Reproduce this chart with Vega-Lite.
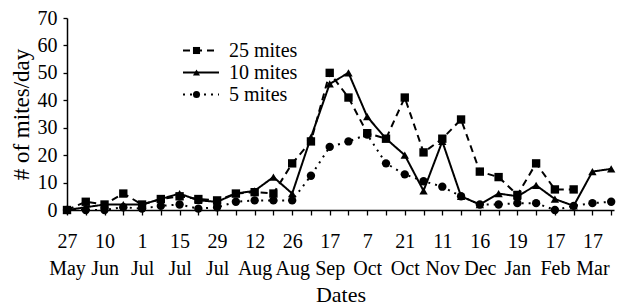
{
  "$schema": "https://vega.github.io/schema/vega-lite/v6.json",
  "width": 547,
  "height": 192,
  "autosize": {"type": "none"},
  "padding": {"left": 67, "top": 18, "right": 3, "bottom": 96},
  "background": "white",
  "data": {
    "values": [
      {"idx": 0, "series": "25 mites", "value": 0},
      {"idx": 1, "series": "25 mites", "value": 3},
      {"idx": 2, "series": "25 mites", "value": 2},
      {"idx": 3, "series": "25 mites", "value": 6},
      {"idx": 4, "series": "25 mites", "value": 2},
      {"idx": 5, "series": "25 mites", "value": 4},
      {"idx": 6, "series": "25 mites", "value": 5},
      {"idx": 7, "series": "25 mites", "value": 4},
      {"idx": 8, "series": "25 mites", "value": 3.5},
      {"idx": 9, "series": "25 mites", "value": 6},
      {"idx": 10, "series": "25 mites", "value": 6.5},
      {"idx": 11, "series": "25 mites", "value": 6},
      {"idx": 12, "series": "25 mites", "value": 17},
      {"idx": 13, "series": "25 mites", "value": 25},
      {"idx": 14, "series": "25 mites", "value": 50},
      {"idx": 15, "series": "25 mites", "value": 41},
      {"idx": 16, "series": "25 mites", "value": 28},
      {"idx": 17, "series": "25 mites", "value": 26},
      {"idx": 18, "series": "25 mites", "value": 41},
      {"idx": 19, "series": "25 mites", "value": 21},
      {"idx": 20, "series": "25 mites", "value": 26},
      {"idx": 21, "series": "25 mites", "value": 33},
      {"idx": 22, "series": "25 mites", "value": 14},
      {"idx": 23, "series": "25 mites", "value": 12},
      {"idx": 24, "series": "25 mites", "value": 5.5},
      {"idx": 25, "series": "25 mites", "value": 17},
      {"idx": 26, "series": "25 mites", "value": 7.5},
      {"idx": 27, "series": "25 mites", "value": 7.5},
      {"idx": 0, "series": "10 mites", "value": 0},
      {"idx": 1, "series": "10 mites", "value": 1},
      {"idx": 2, "series": "10 mites", "value": 2},
      {"idx": 3, "series": "10 mites", "value": 2},
      {"idx": 4, "series": "10 mites", "value": 2},
      {"idx": 5, "series": "10 mites", "value": 4},
      {"idx": 6, "series": "10 mites", "value": 6},
      {"idx": 7, "series": "10 mites", "value": 3.5},
      {"idx": 8, "series": "10 mites", "value": 3},
      {"idx": 9, "series": "10 mites", "value": 6},
      {"idx": 10, "series": "10 mites", "value": 7},
      {"idx": 11, "series": "10 mites", "value": 12},
      {"idx": 12, "series": "10 mites", "value": 6},
      {"idx": 13, "series": "10 mites", "value": 26.5},
      {"idx": 14, "series": "10 mites", "value": 46},
      {"idx": 15, "series": "10 mites", "value": 50},
      {"idx": 16, "series": "10 mites", "value": 34},
      {"idx": 17, "series": "10 mites", "value": 26},
      {"idx": 18, "series": "10 mites", "value": 20},
      {"idx": 19, "series": "10 mites", "value": 7},
      {"idx": 20, "series": "10 mites", "value": 25},
      {"idx": 21, "series": "10 mites", "value": 5},
      {"idx": 22, "series": "10 mites", "value": 2},
      {"idx": 23, "series": "10 mites", "value": 6},
      {"idx": 24, "series": "10 mites", "value": 5},
      {"idx": 25, "series": "10 mites", "value": 9},
      {"idx": 26, "series": "10 mites", "value": 4},
      {"idx": 27, "series": "10 mites", "value": 1.5},
      {"idx": 28, "series": "10 mites", "value": 14},
      {"idx": 29, "series": "10 mites", "value": 15},
      {"idx": 0, "series": "5 mites", "value": 0},
      {"idx": 1, "series": "5 mites", "value": 0},
      {"idx": 2, "series": "5 mites", "value": 0},
      {"idx": 3, "series": "5 mites", "value": 1},
      {"idx": 4, "series": "5 mites", "value": 0.5},
      {"idx": 5, "series": "5 mites", "value": 1.5},
      {"idx": 6, "series": "5 mites", "value": 2},
      {"idx": 7, "series": "5 mites", "value": 0.5},
      {"idx": 8, "series": "5 mites", "value": 1},
      {"idx": 9, "series": "5 mites", "value": 3},
      {"idx": 10, "series": "5 mites", "value": 3.5},
      {"idx": 11, "series": "5 mites", "value": 3.5},
      {"idx": 12, "series": "5 mites", "value": 3.5},
      {"idx": 13, "series": "5 mites", "value": 12.5},
      {"idx": 14, "series": "5 mites", "value": 23},
      {"idx": 15, "series": "5 mites", "value": 25},
      {"idx": 16, "series": "5 mites", "value": 27.5},
      {"idx": 17, "series": "5 mites", "value": 17},
      {"idx": 18, "series": "5 mites", "value": 13},
      {"idx": 19, "series": "5 mites", "value": 10.5},
      {"idx": 20, "series": "5 mites", "value": 8.5},
      {"idx": 21, "series": "5 mites", "value": 5},
      {"idx": 22, "series": "5 mites", "value": 2},
      {"idx": 23, "series": "5 mites", "value": 2},
      {"idx": 24, "series": "5 mites", "value": 2.5},
      {"idx": 25, "series": "5 mites", "value": 2.5},
      {"idx": 26, "series": "5 mites", "value": 0},
      {"idx": 27, "series": "5 mites", "value": 1.5},
      {"idx": 28, "series": "5 mites", "value": 2.5},
      {"idx": 29, "series": "5 mites", "value": 3}
    ]
  },
  "encoding": {
    "x": {
      "field": "idx",
      "type": "quantitative",
      "scale": {"domain": [0, 29.15], "nice": false, "zero": false},
      "axis": {
        "title": "Dates",
        "values": [0,1,2,3,4,5,6,7,8,9,10,11,12,13,14,15,16,17,18,19,20,21,22,23,24,25,26,27,28,29],
        "labelExpr": "datum.value % 2 === 0 ? split(['27 May','10 Jun','1 Jul','15 Jul','29 Jul','12 Aug','26 Aug','17 Sep','7 Oct','21 Oct','11 Nov','16 Dec','19 Jan','17 Feb','17 Mar'][datum.value / 2], ' ') : ''",
        "labelOverlap": false,
        "labelFlush": false,
        "labelBound": false,
        "labelLineHeight": 27,
        "tickSize": 5,
        "labelPadding": 16,
        "titlePadding": 6
      }
    },
    "y": {
      "field": "value",
      "type": "quantitative",
      "scale": {"domain": [0, 70], "nice": false},
      "axis": {
        "title": "# of mites/day",
        "values": [0, 10, 20, 30, 40, 50, 60, 70],
        "tickSize": 4,
        "labelPadding": 6,
        "titlePadding": 4,
        "titleFontSize": 23
      }
    }
  },
  "layer": [
    {
      "mark": {"type": "line", "color": "black", "strokeWidth": 2},
      "encoding": {
        "strokeDash": {
          "field": "series",
          "type": "nominal",
          "scale": {"domain": ["25 mites", "10 mites", "5 mites"], "range": [[7, 5], [1, 0], [2, 5]]},
          "legend": {
            "title": null,
            "orient": "none",
            "legendX": 115,
            "legendY": 22,
            "padding": 0,
            "symbolType": "stroke",
            "symbolSize": 1296,
            "symbolStrokeWidth": 1.8,
            "symbolStrokeColor": "black",
            "clipHeight": 21,
            "rowPadding": 1,
            "labelOffset": 9,
            "labelFont": "Liberation Serif",
            "labelFontSize": 20,
            "labelColor": "black"
          }
        }
      }
    },
    {
      "mark": {"type": "point", "filled": true, "color": "black", "opacity": 1, "size": 70},
      "encoding": {
        "shape": {
          "field": "series",
          "type": "nominal",
          "scale": {"domain": ["25 mites", "10 mites", "5 mites"], "range": ["square", "triangle-up", "circle"]},
          "legend": {
            "title": null,
            "orient": "top-left",
            "offset": 22,
            "padding": 0,
            "symbolSize": 50,
            "symbolFillColor": "black",
            "symbolStrokeColor": "black",
            "symbolOpacity": 1,
            "symbolOffset": 103,
            "clipHeight": 21,
            "rowPadding": 1,
            "labelExpr": "''",
            "labelFontSize": 1
          }
        }
      }
    }
  ],
  "config": {
    "view": {"stroke": null},
    "axis": {
      "grid": false,
      "labelFont": "Liberation Serif",
      "labelFontSize": 20,
      "labelColor": "black",
      "titleFont": "Liberation Serif",
      "titleFontSize": 22,
      "titleFontWeight": "normal",
      "titleColor": "black",
      "domainColor": "black",
      "domainWidth": 1.5,
      "tickColor": "black",
      "tickWidth": 1.3
    }
  }
}
